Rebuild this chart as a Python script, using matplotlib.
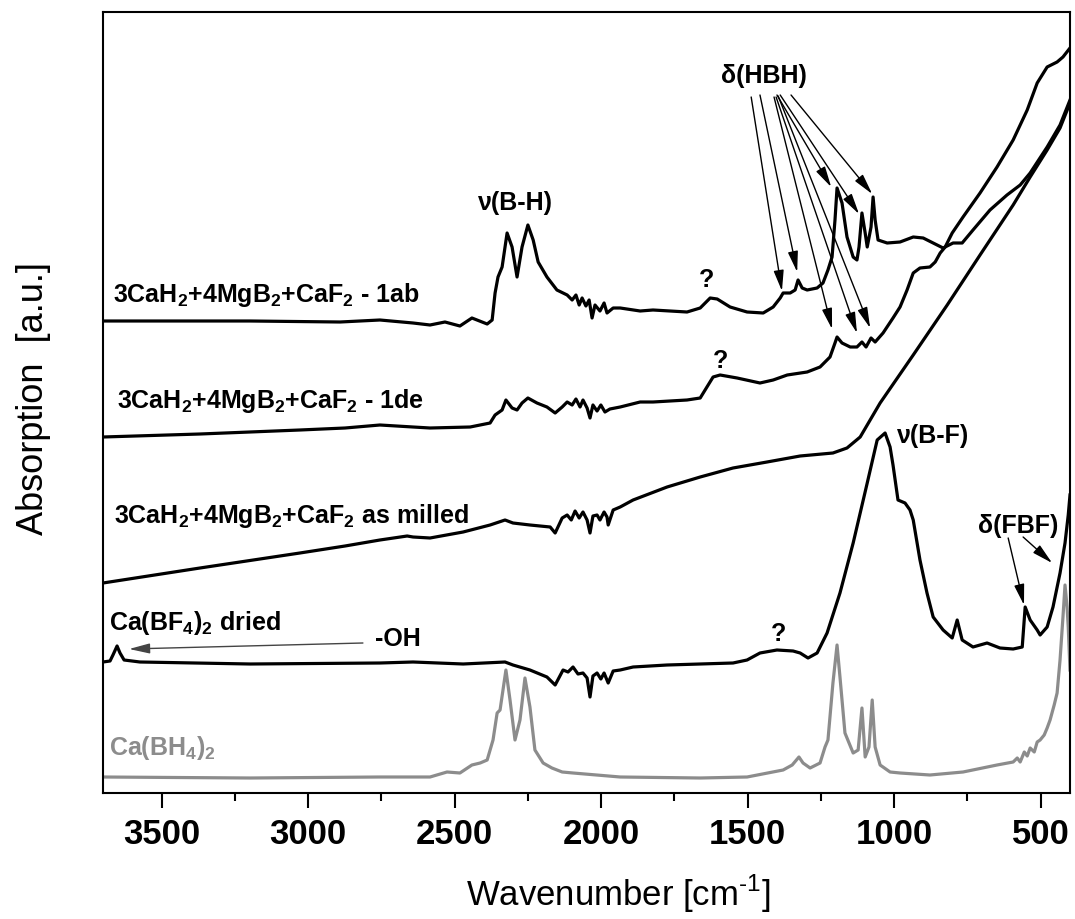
import matplotlib
matplotlib.use("Agg")
import matplotlib.pyplot as plt

plt.rcParams['font.family'] = ['Liberation Sans', 'DejaVu Sans']
plt.rcParams['mathtext.fontset'] = 'custom'
plt.rcParams['mathtext.rm'] = 'Liberation Sans'
plt.rcParams['mathtext.bf'] = 'Liberation Sans:bold'

# ---------------- data (wavenumber [cm-1], absorption [a.u., offset]) ----------------
wn_1ab = [3700, 3198, 2891, 2755, 2642, 2584, 2533, 2482, 2441, 2389, 2372, 2362, 2352, 2338,
          2321, 2304, 2287, 2270, 2250, 2232, 2215, 2185, 2151, 2116, 2099, 2086, 2075, 2065,
          2052, 2041, 2031, 2021, 2004, 1990, 1980, 1959, 1935, 1867, 1823, 1707, 1662, 1628,
          1604, 1560, 1502, 1447, 1413, 1389, 1379, 1355, 1338, 1328, 1314, 1297, 1263, 1243,
          1226, 1212, 1202, 1195, 1178, 1161, 1140, 1127, 1120, 1110, 1099, 1092, 1079, 1072,
          1065, 1055, 1024, 980, 935, 901, 867, 833, 799, 768, 731, 673, 615, 570, 536, 478,
          434, 400]
ab_1ab = [472, 472, 471, 473, 470, 468, 471, 467, 475, 469, 473, 500, 516, 526,
          560, 546, 516, 546, 568, 553, 531, 516, 503, 498, 493, 498, 488, 495,
          487, 493, 475, 488, 482, 490, 480, 485, 485, 482, 483, 481, 485, 495,
          494, 486, 481, 480, 486, 495, 500, 500, 503, 513, 505, 503, 505, 510,
          523, 536, 573, 605, 590, 556, 536, 533, 546, 580, 560, 546, 566, 596,
          573, 553, 550, 551, 556, 555, 550, 545, 550, 550, 563, 583, 598, 608, 620, 646,
          668, 693]

wn_1de = [3700, 3369, 3028, 2874, 2755, 2642, 2584, 2447, 2379, 2362, 2338, 2325, 2304, 2287,
          2270, 2250, 2219, 2185, 2157, 2133, 2116, 2099, 2086, 2072, 2062, 2048, 2038, 2028,
          2014, 2001, 1987, 1970, 1935, 1867, 1823, 1707, 1662, 1639, 1618, 1594, 1536, 1458,
          1413, 1365, 1297, 1253, 1219, 1202, 1195, 1178, 1150, 1127, 1110, 1096, 1079, 1065,
          1038, 1004, 980, 956, 935, 912, 878, 860, 843, 826, 802, 765, 707, 649, 594, 546,
          512, 478, 444, 424, 400]
ab_1de = [356, 359, 363, 365, 368, 366, 365, 366, 370, 378, 383, 393, 385, 383,
          390, 395, 390, 386, 380, 386, 391, 388, 394, 386, 393, 385, 375, 388,
          382, 388, 381, 384, 386, 391, 391, 393, 395, 406, 416, 418, 415, 410,
          413, 418, 421, 426, 436, 450, 456, 450, 446, 446, 451, 446, 455, 451,
          460, 475, 486, 503, 520, 525, 526, 531, 540, 546, 560, 576, 600, 626, 653, 683,
          710, 726, 731, 736, 745]

wn_mill = [3700, 3369, 3028, 2874, 2755, 2662, 2642, 2584, 2471, 2379, 2328, 2301, 2243, 2174,
           2157, 2133, 2116, 2102, 2089, 2075, 2062, 2048, 2038, 2028, 2014, 2004, 1990, 1980,
           1976, 1959, 1935, 1891, 1775, 1662, 1550, 1434, 1321, 1209, 1161, 1116, 1082, 1048,
           935, 819, 707, 594, 536, 478, 434, 400]
ab_mill = [210, 225, 240, 247, 253, 257, 256, 255, 261, 268, 273, 270, 268, 266,
           260, 275, 278, 273, 282, 275, 281, 273, 260, 277, 278, 273, 281, 276,
           268, 283, 286, 293, 306, 316, 325, 331, 337, 340, 345, 356, 373, 390,
           438, 488, 538, 588, 616, 643, 665, 690]

wn_bf4 = [3700, 3676, 3666, 3652, 3642, 3628, 3574, 3198, 2755, 2642, 2471, 2328, 2301, 2243,
          2185, 2157, 2130, 2113, 2096, 2079, 2062, 2048, 2038, 2028, 2014, 2001, 1990, 1976,
          1959, 1935, 1891, 1775, 1662, 1550, 1502, 1458, 1400, 1345, 1321, 1294, 1263, 1229,
          1185, 1140, 1092, 1058, 1031, 1014, 1004, 987, 963, 946, 935, 912, 888, 867, 833,
          802, 785, 768, 731, 683, 639, 594, 563, 553, 536, 512, 502, 478, 458, 434, 417,
          406, 400]
ab_bf4 = [131, 132, 138, 147, 140, 133, 131, 129, 130, 131, 129, 131, 128, 123,
          116, 108, 123, 121, 126, 119, 120, 115, 96, 117, 120, 114, 120, 110,
          122, 123, 126, 128, 129, 130, 133, 140, 143, 142, 140, 135, 140, 160,
          200, 250, 310, 353, 360, 346, 328, 293, 290, 283, 273, 233, 200, 176, 163,
          155, 173, 153, 146, 150, 145, 144, 146, 186, 173, 163, 158, 166, 186, 220, 250,
          278, 298]

wn_bh4 = [3700, 3198, 2755, 2584, 2526, 2482, 2441, 2413, 2389, 2369, 2355, 2345, 2325, 2311,
          2294, 2277, 2260, 2243, 2226, 2198, 2168, 2133, 2096, 1935, 1662, 1502, 1379, 1348,
          1325, 1311, 1287, 1253, 1236, 1226, 1209, 1195, 1185, 1168, 1140, 1123, 1110, 1099,
          1086, 1075, 1065, 1048, 1014, 980, 878, 765, 649, 594, 580, 570, 556, 546, 536, 522,
          512, 502, 488, 478, 468, 454, 444, 434, 424, 417, 410, 406, 400]
ab_bh4 = [16, 15, 16, 16, 21, 20, 28, 30, 33, 53, 80, 83, 123, 93,
          53, 73, 115, 86, 43, 30, 25, 21, 20, 16, 15, 16, 23, 28,
          36, 30, 25, 30, 46, 53, 110, 148, 116, 60, 40, 43, 85, 36,
          46, 93, 46, 28, 21, 20, 18, 21, 28, 31, 35, 31, 41, 37, 45, 41,
          51, 53, 58, 65, 73, 88, 100, 133, 176, 208, 186, 166, 123]

xticks_major = [3500, 3000, 2500, 2000, 1500, 1000, 500]
xticks_minor = [3250, 2750, 2250, 1750, 1250, 750]

labels = {
    '1ab': '3CaH$_\\mathbf{2}$+4MgB$_\\mathbf{2}$+CaF$_\\mathbf{2}$ - 1ab',
    '1de': '3CaH$_\\mathbf{2}$+4MgB$_\\mathbf{2}$+CaF$_\\mathbf{2}$ - 1de',
    'mill': '3CaH$_\\mathbf{2}$+4MgB$_\\mathbf{2}$+CaF$_\\mathbf{2}$ as milled',
    'bf4': 'Ca(BF$_\\mathbf{4}$)$_\\mathbf{2}$ dried',
    'bh4': 'Ca(BH$_\\mathbf{4}$)$_\\mathbf{2}$',
}

# ---------------- figure ----------------
W, H = 1075, 919
fig = plt.figure(figsize=(W / 100, H / 100), dpi=100)
ax = fig.add_axes([103 / W, 1 - 793 / H, 967 / W, 781 / H])

black_lw = 2.3
gray = '#8c8c8c'
ax.plot(wn_1ab, ab_1ab, color='black', lw=black_lw, solid_joinstyle='round')
ax.plot(wn_1de, ab_1de, color='black', lw=black_lw, solid_joinstyle='round')
ax.plot(wn_mill, ab_mill, color='black', lw=black_lw, solid_joinstyle='round')
ax.plot(wn_bf4, ab_bf4, color='black', lw=black_lw, solid_joinstyle='round')
ax.plot(wn_bh4, ab_bh4, color=gray, lw=black_lw, solid_joinstyle='round')

ax.set_xlim(3700, 400)
ax.set_ylim(0, 781)
ax.set_yticks([])
ax.set_xticks(xticks_major)
ax.set_xticks(xticks_minor, minor=True)
ax.tick_params(axis='x', which='major', direction='out', length=11, width=1.5,
               labelsize=25, pad=7)
ax.tick_params(axis='x', which='minor', direction='out', length=6, width=1.5)
for lab in ax.get_xticklabels():
    lab.set_fontweight('bold')
for s in ax.spines.values():
    s.set_linewidth(1.5)

ax.set_xlabel('Wavenumber [cm$^{\\mathregular{\u2010}\\mathregular{1}}$]', fontsize=25)
ax.xaxis.set_label_coords(0.533, -0.102)
ax.set_ylabel('Absorption  [a.u.]', fontsize=26)
ax.yaxis.set_label_coords(-0.054, 0.505)

fs = 18
tk = dict(fontsize=fs, fontweight='bold', va='baseline')
ax.text(3666, 491, labels['1ab'], ha='left', **tk)
ax.text(3652, 385, labels['1de'], ha='left', **tk)
ax.text(3664, 270, labels['mill'], ha='left', **tk)
ax.text(3681, 163, labels['bf4'], ha='left', **tk)
ax.text(2772, 147, '-OH', ha='left', **tk)
ax.text(3678, 38, labels['bh4'], ha='left', color=gray, **tk)
ax.text(2294, 583, 'ν(B-H)', ha='center', **tk)
ax.text(1446, 710, 'δ(HBH)', ha='center', **tk)
ax.text(1639, 506, '?', ha='center', **tk)
ax.text(1594, 425, '?', ha='center', **tk)
ax.text(1396, 152, '?', ha='center', **tk)
ax.text(990, 350, 'ν(B-F)', ha='left', **tk)
ax.text(714, 260, 'δ(FBF)', ha='left', **tk)

aprops = dict(arrowstyle='-|>,head_length=0.9,head_width=0.22', lw=1.0, color='black',
              shrinkA=0, shrinkB=0, mutation_scale=14)
# delta(HBH) arrows: (tail, head)
hbh = [((1488, 696), (1383, 502)), ((1458, 698), (1331, 521)),
       ((1410, 696), (1212, 464)), ((1403, 696), (1127, 460)),
       ((1396, 697), (1082, 465)), ((1400, 698), (1215, 606)),
       ((1389, 698), (1120, 579)), ((1352, 698), (1075, 599))]
for tail, head in hbh:
    ax.annotate('', xy=head, xytext=tail, arrowprops=aprops)
ax.annotate('', xy=(557, 188), xytext=(611, 255), arrowprops=aprops)
ax.annotate('', xy=(461, 230), xytext=(560, 256), arrowprops=aprops)
oh_props = dict(aprops)
oh_props['color'] = '#444444'
ax.annotate('', xy=(3611, 144), xytext=(2813, 150), arrowprops=oh_props)

fig.savefig('out.png', dpi=100)
